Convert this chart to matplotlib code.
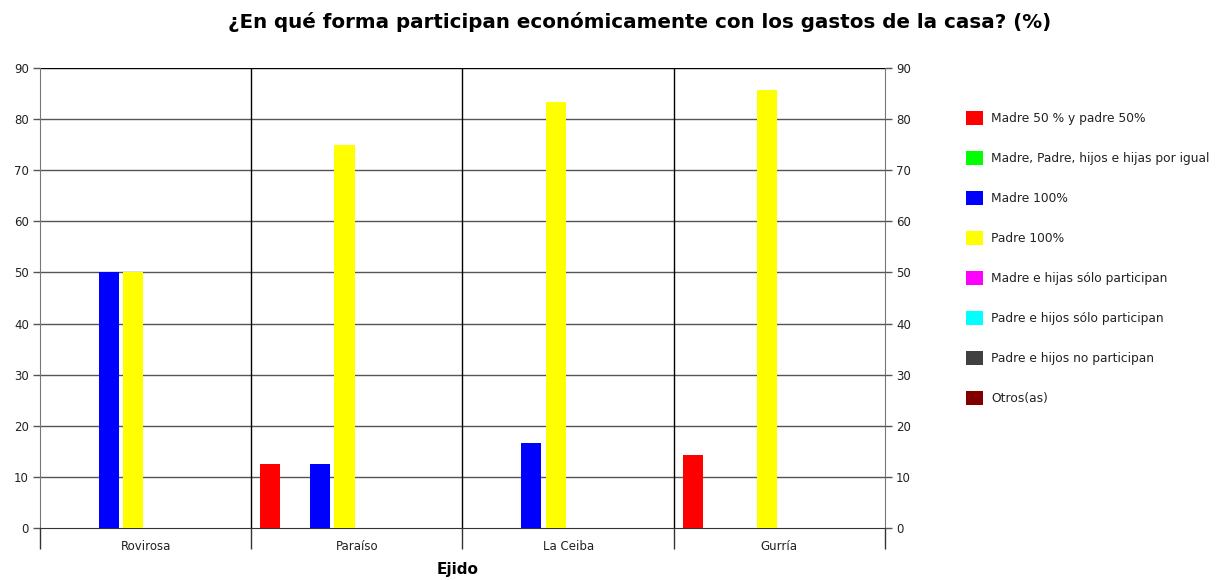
import matplotlib
matplotlib.use('Agg')
import matplotlib.pyplot as plt
from matplotlib.patches import Patch
import numpy as np

# Share of households by who pays the house expenses, per ejido (%)
ejidos = ["Rovirosa", "Paraíso", "La Ceiba", "Gurría"]
series = [
    "Madre 50 % y padre 50%",
    "Madre, Padre, hijos e hijas por igual",
    "Madre 100%",
    "Padre 100%",
    "Madre e hijas sólo participan",
    "Padre e hijos sólo participan",
    "Padre e hijos no participan",
    "Otros(as)",
]
colors = ["#FF0000", "#00FF00", "#0000FF", "#FFFF00",
          "#FF00FF", "#00FFFF", "#404040", "#800000"]

madre_50_padre_50 = [0, 12.5, 0, 14.3]
todos_por_igual = [0, 0, 0, 0]
madre_100 = [50, 12.5, 16.7, 0]
padre_100 = [50, 75, 83.3, 85.7]
madre_hijas = [0, 0, 0, 0]
padre_hijos = [0, 0, 0, 0]
no_participan = [0, 0, 0, 0]
otros = [0, 0, 0, 0]

values = [madre_50_padre_50, todos_por_igual, madre_100, padre_100,
          madre_hijas, padre_hijos, no_participan, otros]

fig = plt.figure(figsize=(12.28, 5.8), dpi=100)
ax = fig.add_axes([0.0326, 0.0897, 0.688, 0.7931])

slot = 0.117
width = 0.095
centers = np.arange(len(ejidos)) + 0.5
for k, (vals, col) in enumerate(zip(values, colors)):
    ax.bar(centers + (k - 3.5) * slot, vals, width=width, color=col,
           linewidth=0, zorder=3)

ax.set_xlim(0, 4)
ax.set_ylim(0, 90)
ax.set_yticks(range(0, 91, 10))

# category boundaries as major ticks, names on minor ticks
ax.set_xticks([0, 1, 2, 3, 4])
ax.set_xticklabels([])
ax.set_xticks(centers, minor=True)
ax.set_xticklabels(ejidos, minor=True)
ax.tick_params(axis='x', which='major', length=15, width=1, color='#333333')
ax.tick_params(axis='x', which='minor', length=0, pad=9, labelsize=8.5,
               labelcolor='#222222')
ax.tick_params(axis='y', length=5, width=1, color='#555555', labelsize=8.5, pad=3,
               labelcolor='#222222')

for y in range(10, 90, 10):
    ax.axhline(y, color='#555555', linewidth=1, zorder=1)
ax.axhline(90, color='black', linewidth=1, zorder=1)
for x in [1, 2, 3]:
    ax.axvline(x, color='black', linewidth=1, zorder=1)

for side in ['left', 'right']:
    ax.spines[side].set_color('#777777')
ax.spines['top'].set_visible(False)
ax.spines['bottom'].set_color('#333333')

ax2 = ax.twinx()
ax2.set_ylim(0, 90)
ax2.set_yticks(range(0, 91, 10))
ax2.tick_params(axis='y', length=5, width=1, color='#555555', labelsize=8.5, pad=3,
                labelcolor='#222222')
for s in ax2.spines.values():
    s.set_visible(False)

fig.text(0.521, 0.962, "¿En qué forma participan económicamente con los gastos de la casa? (%)",
         ha='center', va='center', fontsize=14.3, fontweight='bold')
fig.text(0.373, 0.018, "Ejido", ha='center', va='center', fontsize=11, fontweight='bold')

handles = [Patch(facecolor=c, edgecolor='none') for c in colors]
fig.legend(handles, series, loc='upper left', bbox_to_anchor=(0.778, 0.828),
           frameon=False, fontsize=8.8, handlelength=1.4, handleheight=1.4,
           handletextpad=0.65, labelspacing=2.12, labelcolor='#222222')

fig.savefig('out.png', dpi=100)
